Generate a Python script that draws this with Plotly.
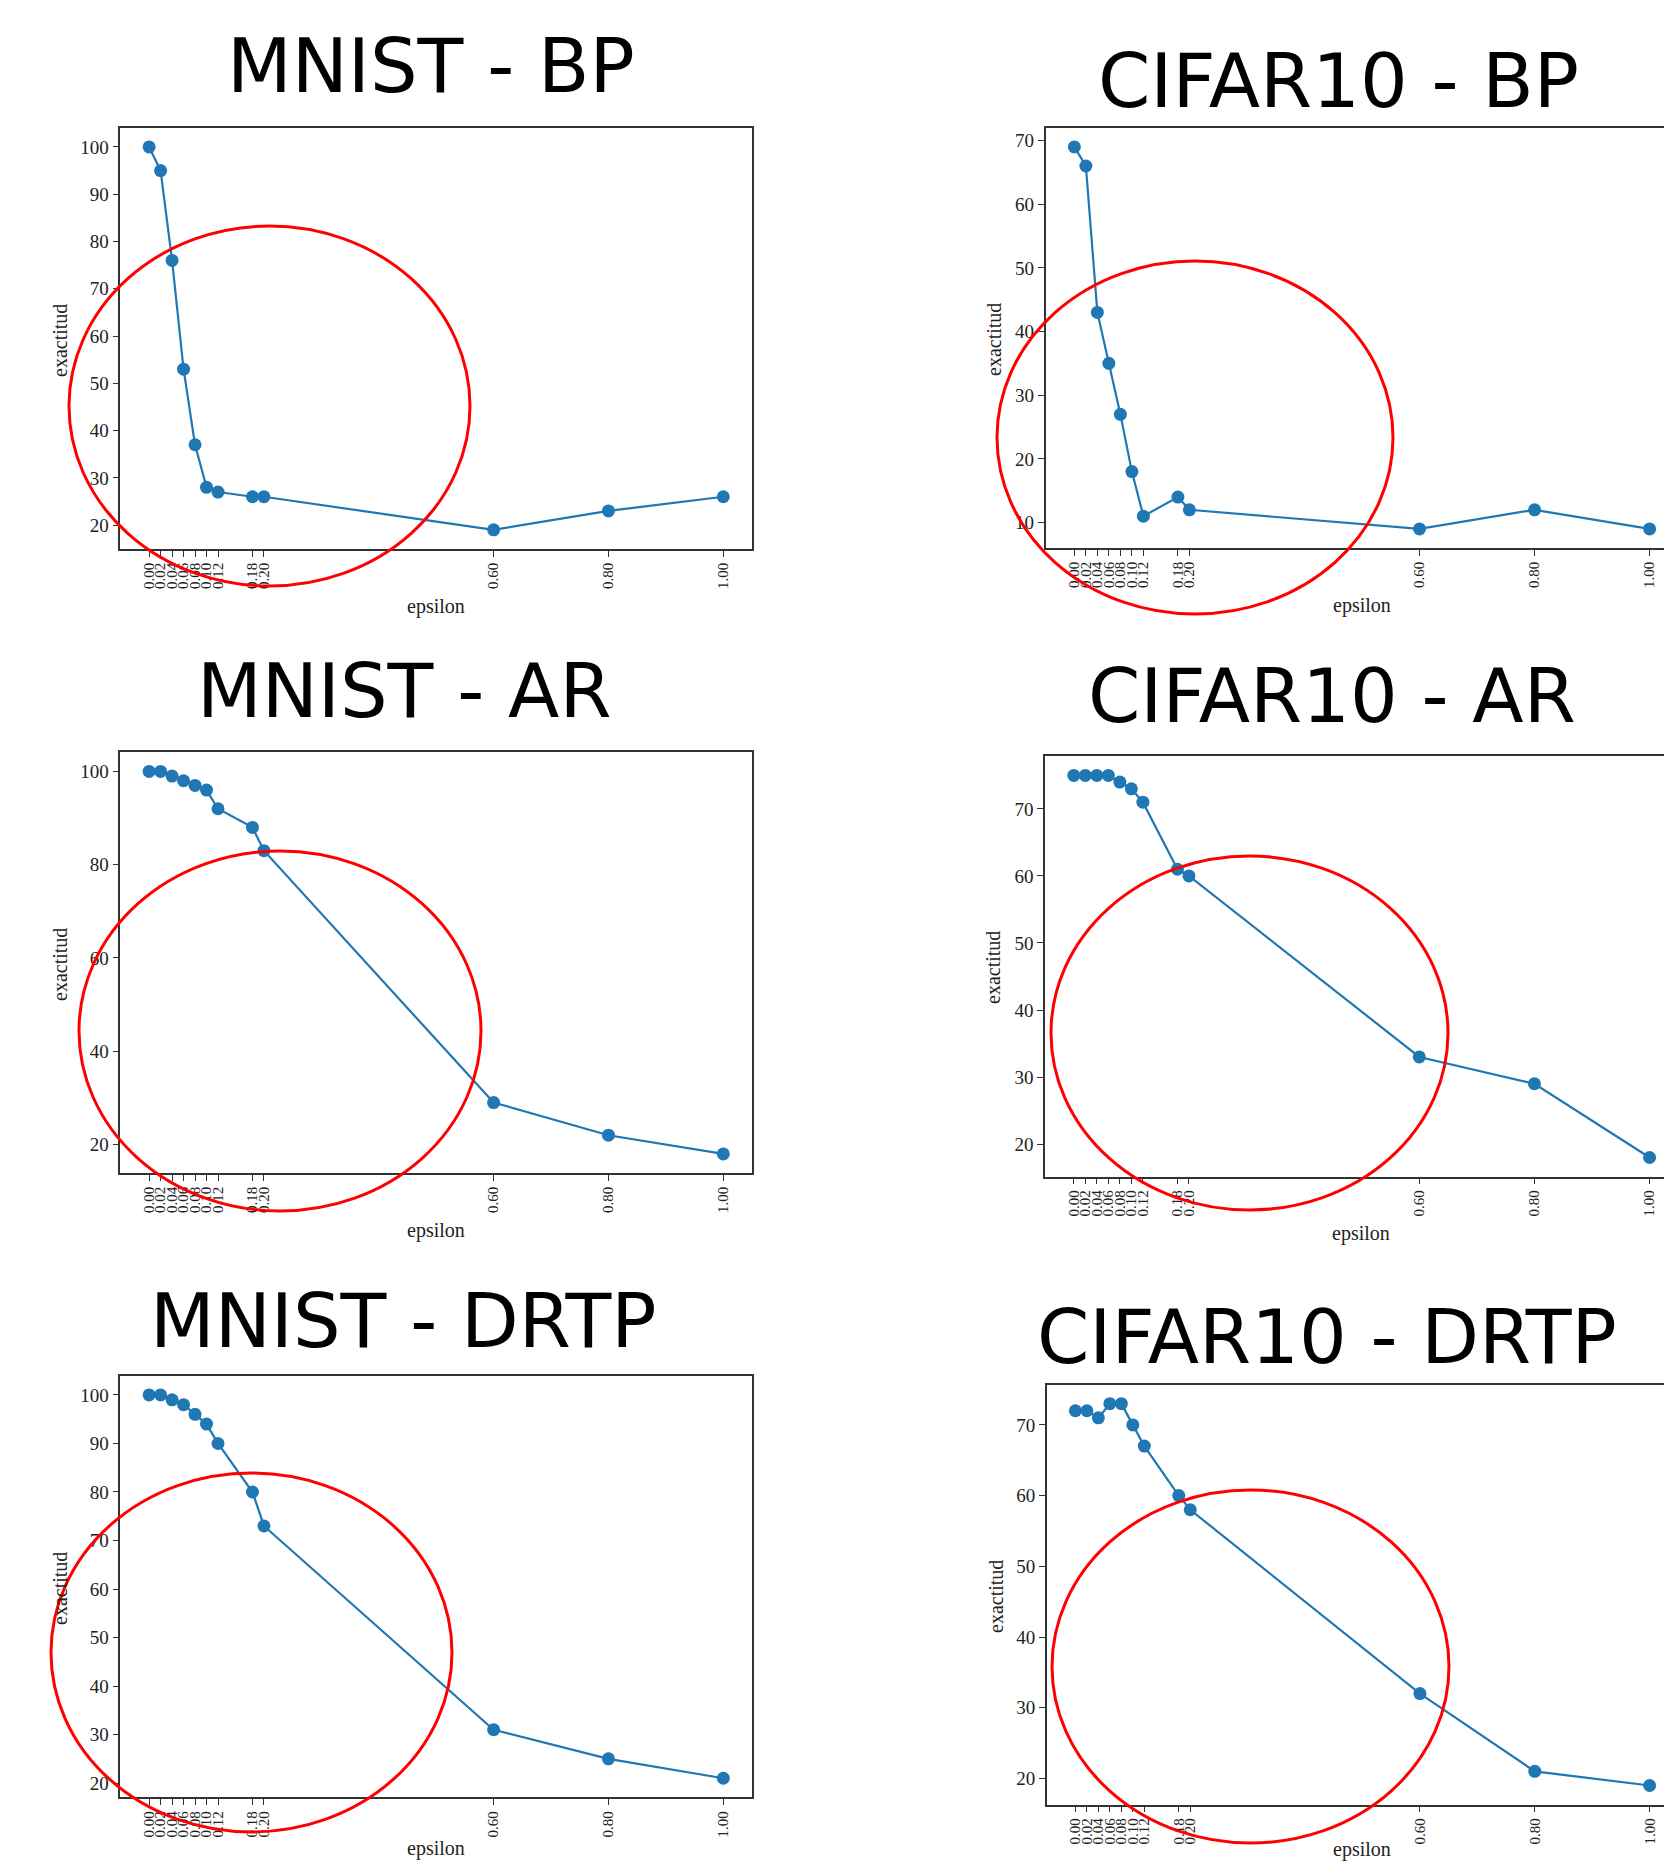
import plotly.graph_objects as go

W, H = 1664, 1861

# ---------------- data ----------------
epsilon = [0.00, 0.02, 0.04, 0.06, 0.08, 0.10, 0.12, 0.18, 0.20, 0.60, 0.80, 1.00]
epsilon_labels = ["0.00", "0.02", "0.04", "0.06", "0.08", "0.10", "0.12",
                  "0.18", "0.20", "0.60", "0.80", "1.00"]

mnist_bp = [100, 95, 76, 53, 37, 28, 27, 26, 26, 19, 23, 26]
cifar_bp = [69, 66, 43, 35, 27, 18, 11, 14, 12, 9, 12, 9]
mnist_ar = [100, 100, 99, 98, 97, 96, 92, 88, 83, 29, 22, 18]
cifar_ar = [75, 75, 75, 75, 74, 73, 71, 61, 60, 33, 29, 18]
mnist_drtp = [100, 100, 99, 98, 96, 94, 90, 80, 73, 31, 25, 21]
cifar_drtp = [72, 72, 71, 73, 73, 70, 67, 60, 58, 32, 21, 19]

titles = ["MNIST - BP", "CIFAR10 - BP", "MNIST - AR",
          "CIFAR10 - AR", "MNIST - DRTP", "CIFAR10 - DRTP"]
series = [mnist_bp, cifar_bp, mnist_ar, cifar_ar, mnist_drtp, cifar_drtp]

x_label = "epsilon"
y_label = "exactitud"

# ---------------- layout (pixel geometry) ----------------
# frame: left, right, top, bottom (px); right column is cropped at the page edge
panels = [
    dict(frame=(120.4, 752, 127.8, 549), xr=[-0.05, 1.05], yr=[14.95, 104.05],
         yt=[20, 30, 40, 50, 60, 70, 80, 90, 100], mirror=True,
         title=(431, 66), ell=(69, 470, 226, 586), xl=(436, 606), yl=(60, 340)),
    dict(frame=(1045.6, W, 127.8, 548), xr=[-0.05, 1.025], yr=[6, 72],
         yt=[10, 20, 30, 40, 50, 60, 70], mirror=False,
         title=(1338, 81), ell=(997, 1393, 261, 614), xl=(1362, 605), yl=(994, 340)),
    dict(frame=(120.4, 752, 752.3, 1173), xr=[-0.05, 1.05], yr=[13.9, 104.1],
         yt=[20, 40, 60, 80, 100], mirror=True,
         title=(404, 691), ell=(79, 481, 851, 1211), xl=(436, 1230), yl=(60, 964)),
    dict(frame=(1045, W, 756.3, 1176.6), xr=[-0.05, 1.025], yr=[15.15, 77.85],
         yt=[20, 30, 40, 50, 60, 70], mirror=False,
         title=(1332, 696), ell=(1051, 1448, 856, 1210), xl=(1361, 1233), yl=(993, 968)),
    dict(frame=(120.4, 752, 1375.8, 1797.4), xr=[-0.05, 1.05], yr=[17.05, 103.95],
         yt=[20, 30, 40, 50, 60, 70, 80, 90, 100], mirror=True,
         title=(403, 1321), ell=(51, 452, 1473, 1832), xl=(436, 1848), yl=(60, 1588)),
    dict(frame=(1046.7, W, 1384.6, 1804.6), xr=[-0.05, 1.025], yr=[16.3, 75.7],
         yt=[20, 30, 40, 50, 60, 70], mirror=False,
         title=(1327, 1337), ell=(1052, 1449, 1490, 1843), xl=(1362, 1849), yl=(996, 1597)),
]

BLUE = "#1f77b4"
AXC = "#333333"
SERIF = "Liberation Serif, Times New Roman, serif"
SANS = "DejaVu Sans, sans-serif"

fig = go.Figure()
layout = dict(
    width=W, height=H, margin=dict(l=0, r=0, t=0, b=0),
    paper_bgcolor="white", plot_bgcolor="white", showlegend=False,
)
annotations = []
shapes = []

for i, (p, ys, ttl) in enumerate(zip(panels, series, titles)):
    k = "" if i == 0 else str(i + 1)
    L, R, T, B = p["frame"]
    fig.add_trace(go.Scatter(
        x=epsilon, y=ys, mode="lines+markers",
        line=dict(color=BLUE, width=2.2),
        marker=dict(color=BLUE, size=13),
        xaxis="x" + k, yaxis="y" + k, hoverinfo="x+y",
    ))
    layout["xaxis" + k] = dict(
        domain=[L / W, min(R / W, 1.0)], anchor="y" + k, range=p["xr"],
        tickmode="array", tickvals=epsilon, ticktext=epsilon_labels,
        tickangle=-90, ticks="outside", ticklen=6, tickwidth=1.2, tickcolor=AXC,
        showline=True, linecolor=AXC, linewidth=1.5, mirror=True,
        showgrid=False, zeroline=False,
        tickfont=dict(family=SERIF, size=15, color="#222"),
    )
    layout["yaxis" + k] = dict(
        domain=[1 - B / H, 1 - T / H], anchor="x" + k, range=p["yr"],
        tickmode="array", tickvals=p["yt"], ticks="outside", ticklen=6,
        tickwidth=1.2, tickcolor=AXC,
        showline=True, linecolor=AXC, linewidth=1.5, mirror=p["mirror"],
        showgrid=False, zeroline=False,
        tickfont=dict(family=SERIF, size=19, color="#222"),
    )
    # panel title
    tx, ty = p["title"]
    annotations.append(dict(
        text=ttl, x=tx / W, y=1 - ty / H, xref="paper", yref="paper",
        xanchor="center", yanchor="middle", showarrow=False,
        font=dict(family=SANS, size=75, color="black"),
    ))
    # axis titles
    xx, xy = p["xl"]
    annotations.append(dict(
        text=x_label, x=xx / W, y=1 - xy / H, xref="paper", yref="paper",
        xanchor="center", yanchor="middle", showarrow=False,
        font=dict(family=SERIF, size=20, color="#222"),
    ))
    yx, yy = p["yl"]
    annotations.append(dict(
        text=y_label, x=yx / W, y=1 - yy / H, xref="paper", yref="paper",
        xanchor="center", yanchor="middle", showarrow=False, textangle=-90,
        font=dict(family=SERIF, size=20, color="#222"),
    ))
    # red highlight ellipse
    ex0, ex1, ey0, ey1 = p["ell"]
    shapes.append(dict(
        type="circle", xref="paper", yref="paper", layer="above",
        x0=ex0 / W, x1=ex1 / W, y0=1 - ey1 / H, y1=1 - ey0 / H,
        line=dict(color="#ff0000", width=3),
    ))

layout["annotations"] = annotations
layout["shapes"] = shapes
fig.update_layout(**layout)

fig.write_html("out.html", config={"displayModeBar": False},
               post_script="document.body.style.margin='0';document.body.style.padding='0';document.body.style.overflow='hidden';")
